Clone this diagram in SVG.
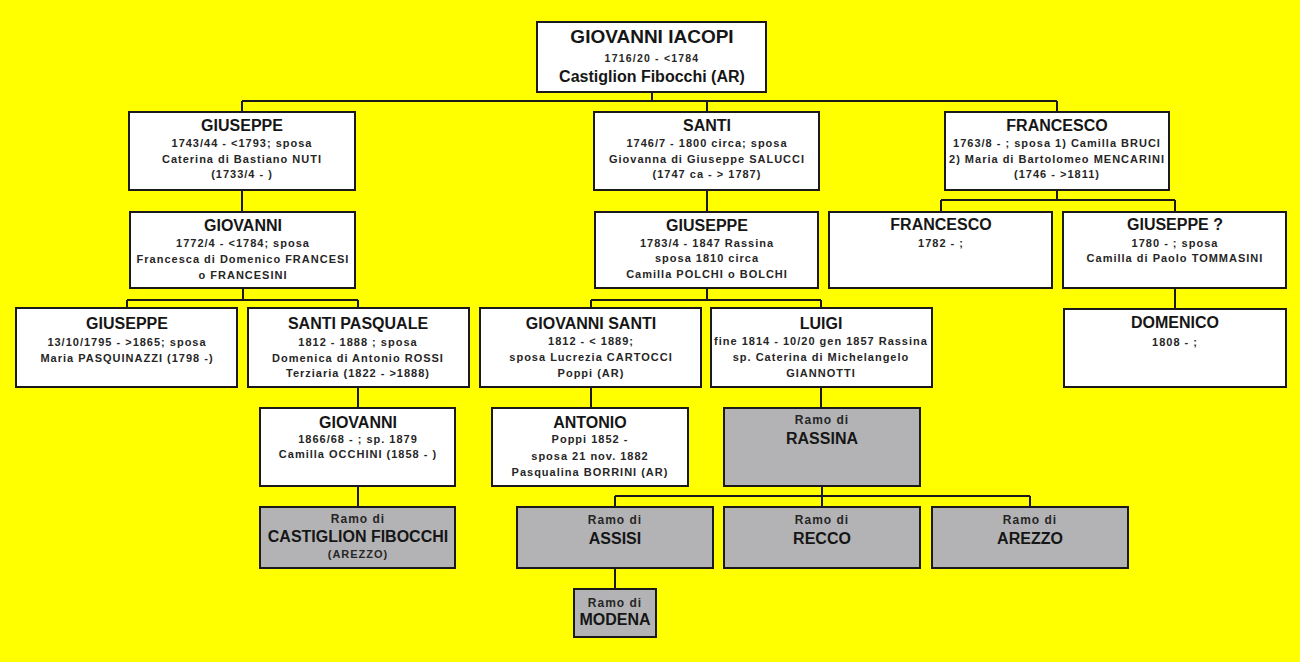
<svg xmlns="http://www.w3.org/2000/svg" width="1300" height="662" viewBox="0 0 1300 662">
<style>
.box{fill:#ffffff;stroke:#1a1a1a;stroke-width:2}
.ramo{fill:#b3b3b5;stroke:#1a1a1a;stroke-width:2}
.ln{stroke:#1a1a1a;stroke-width:2;fill:none}
text{font-family:"Liberation Sans",Arial,sans-serif;font-weight:bold;text-anchor:middle;fill:#161616}
.t{font-size:16px}
.s{font-size:11px;letter-spacing:1px;fill:#262626}
.r{font-size:12px;letter-spacing:1px;fill:#262626}
.rt{font-size:19px}
.rs{font-size:10.5px;letter-spacing:1.2px;fill:#262626}
.rc{font-size:16px}
</style>
<rect x="0" y="0" width="1300" height="662" fill="#ffff00"/>

<g id="connectors">
<path class="ln" d="M652,92V101M242,101H1057M242,101V112M707,101V112M1057,101V112"/>
<path class="ln" d="M242,190V212M707,190V212"/>
<path class="ln" d="M1057,190V200M941,200H1175M941,200V212M1175,200V212"/>
<path class="ln" d="M243,288V300M127,300H358M127,300V308M358,300V308"/>
<path class="ln" d="M707,288V300M591,300H821M591,300V308M821,300V308"/>
<path class="ln" d="M1175,288V309"/>
<path class="ln" d="M358,387V408M591,387V408M821,387V408"/>
<path class="ln" d="M358,486V507"/>
<path class="ln" d="M822,486V496M615,496H1030M615,496V507M822,496V507M1030,496V507"/>
<path class="ln" d="M615,568V589"/>
</g>

<g id="root">
<rect class="box" x="537" y="22" width="229" height="70"/>
<text class="rt" x="652" y="43">GIOVANNI IACOPI</text>
<text class="rs" x="652" y="62">1716/20 - &lt;1784</text>
<text class="rc" x="652" y="82">Castiglion Fibocchi (AR)</text>
</g>

<g id="g1-giuseppe">
<rect class="box" x="129" y="112" width="226" height="78"/>
<text class="t" x="242" y="131">GIUSEPPE</text>
<text class="s" x="242" y="147">1743/44 - &lt;1793; sposa</text>
<text class="s" x="242" y="163">Caterina di Bastiano NUTI</text>
<text class="s" x="242" y="178">(1733/4 - )</text>
</g>

<g id="g1-santi">
<rect class="box" x="594" y="112" width="225" height="78"/>
<text class="t" x="707" y="131">SANTI</text>
<text class="s" x="707" y="147">1746/7 - 1800 circa; sposa</text>
<text class="s" x="707" y="163">Giovanna di Giuseppe SALUCCI</text>
<text class="s" x="707" y="178">(1747 ca - &gt; 1787)</text>
</g>

<g id="g1-francesco">
<rect class="box" x="945" y="112" width="224" height="78"/>
<text class="t" x="1057" y="131">FRANCESCO</text>
<text class="s" x="1057" y="147">1763/8 - ; sposa 1) Camilla BRUCI</text>
<text class="s" x="1057" y="163">2) Maria di Bartolomeo MENCARINI</text>
<text class="s" x="1057" y="178">(1746 - &gt;1811)</text>
</g>

<g id="g2-giovanni">
<rect class="box" x="130" y="212" width="225" height="76"/>
<text class="t" x="243" y="231">GIOVANNI</text>
<text class="s" x="243" y="247">1772/4 - &lt;1784; sposa</text>
<text class="s" x="243" y="263">Francesca di Domenico FRANCESI</text>
<text class="s" x="243" y="279">o FRANCESINI</text>
</g>

<g id="g2-giuseppe">
<rect class="box" x="595" y="212" width="223" height="76"/>
<text class="t" x="707" y="231">GIUSEPPE</text>
<text class="s" x="707" y="247">1783/4 - 1847 Rassina</text>
<text class="s" x="707" y="262">sposa 1810 circa</text>
<text class="s" x="707" y="278">Camilla POLCHI o BOLCHI</text>
</g>

<g id="g2-francesco">
<rect class="box" x="829" y="212" width="223" height="76"/>
<text class="t" x="941" y="230">FRANCESCO</text>
<text class="s" x="941" y="247">1782 - ;</text>
</g>

<g id="g2-giuseppe-q">
<rect class="box" x="1063" y="212" width="223" height="76"/>
<text class="t" x="1175" y="230">GIUSEPPE ?</text>
<text class="s" x="1175" y="247">1780 - ; sposa</text>
<text class="s" x="1175" y="262">Camilla di Paolo TOMMASINI</text>
</g>

<g id="g3-giuseppe">
<rect class="box" x="16" y="308" width="221" height="79"/>
<text class="t" x="127" y="329">GIUSEPPE</text>
<text class="s" x="127" y="346">13/10/1795 - &gt;1865; sposa</text>
<text class="s" x="127" y="362">Maria PASQUINAZZI (1798 -)</text>
</g>

<g id="g3-santi-pasquale">
<rect class="box" x="248" y="308" width="221" height="79"/>
<text class="t" x="358" y="329">SANTI PASQUALE</text>
<text class="s" x="358" y="346">1812 - 1888 ; sposa</text>
<text class="s" x="358" y="362">Domenica di Antonio ROSSI</text>
<text class="s" x="358" y="377">Terziaria (1822 - &gt;1888)</text>
</g>

<g id="g3-giovanni-santi">
<rect class="box" x="480" y="308" width="221" height="79"/>
<text class="t" x="591" y="329">GIOVANNI SANTI</text>
<text class="s" x="591" y="345">1812 - &lt; 1889;</text>
<text class="s" x="591" y="361">sposa Lucrezia CARTOCCI</text>
<text class="s" x="591" y="377">Poppi (AR)</text>
</g>

<g id="g3-luigi">
<rect class="box" x="711" y="308" width="221" height="79"/>
<text class="t" x="821" y="329">LUIGI</text>
<text class="s" x="821" y="345">fine 1814 - 10/20 gen 1857 Rassina</text>
<text class="s" x="821" y="361">sp. Caterina di Michelangelo</text>
<text class="s" x="821" y="377">GIANNOTTI</text>
</g>

<g id="g3-domenico">
<rect class="box" x="1064" y="309" width="222" height="78"/>
<text class="t" x="1175" y="328">DOMENICO</text>
<text class="s" x="1175" y="346">1808 - ;</text>
</g>

<g id="g4-giovanni">
<rect class="box" x="260" y="408" width="195" height="78"/>
<text class="t" x="358" y="428">GIOVANNI</text>
<text class="s" x="358" y="443">1866/68 - ; sp. 1879</text>
<text class="s" x="358" y="458">Camilla OCCHINI (1858 - )</text>
</g>

<g id="g4-antonio">
<rect class="box" x="492" y="408" width="196" height="78"/>
<text class="t" x="590" y="428">ANTONIO</text>
<text class="s" x="590" y="443">Poppi 1852 -</text>
<text class="s" x="590" y="460">sposa 21 nov. 1882</text>
<text class="s" x="590" y="476">Pasqualina BORRINI (AR)</text>
</g>

<g id="ramo-rassina">
<rect class="ramo" x="724" y="408" width="196" height="78"/>
<text class="r" x="822" y="424">Ramo di</text>
<text class="t" x="822" y="444">RASSINA</text>
</g>

<g id="ramo-castiglion">
<rect class="ramo" x="260" y="507" width="195" height="61"/>
<text class="r" x="358" y="523">Ramo di</text>
<text class="t" x="358" y="542">CASTIGLION FIBOCCHI</text>
<text class="s" x="358" y="558">(AREZZO)</text>
</g>

<g id="ramo-assisi">
<rect class="ramo" x="517" y="507" width="196" height="61"/>
<text class="r" x="615" y="524">Ramo di</text>
<text class="t" x="615" y="544">ASSISI</text>
</g>

<g id="ramo-recco">
<rect class="ramo" x="724" y="507" width="196" height="61"/>
<text class="r" x="822" y="524">Ramo di</text>
<text class="t" x="822" y="544">RECCO</text>
</g>

<g id="ramo-arezzo">
<rect class="ramo" x="932" y="507" width="196" height="61"/>
<text class="r" x="1030" y="524">Ramo di</text>
<text class="t" x="1030" y="544">AREZZO</text>
</g>

<g id="ramo-modena">
<rect class="ramo" x="574" y="589" width="82" height="48"/>
<text class="r" x="615" y="607">Ramo di</text>
<text class="t" x="615" y="625">MODENA</text>
</g>
</svg>
